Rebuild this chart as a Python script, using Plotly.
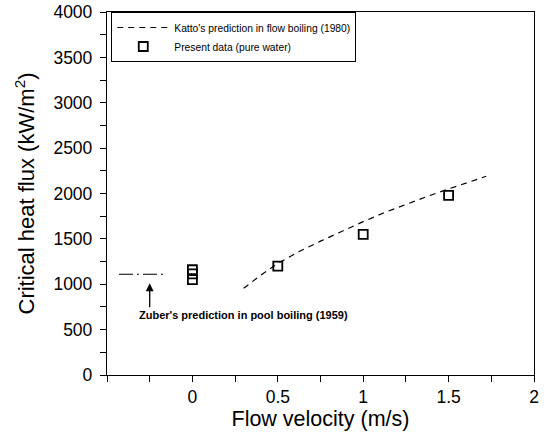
import plotly.graph_objects as go

# Katto's prediction in flow boiling (1980)
katto_v = [0.30, 0.40, 0.50, 0.625, 0.75, 0.875, 1.00, 1.125, 1.25, 1.375, 1.50, 1.625, 1.72]
katto_q = [955, 1100, 1230, 1360, 1475, 1585, 1690, 1790, 1880, 1968, 2050, 2130, 2190]

# Present data (pure water)
data_v = [0.0, 0.0, 0.0, 0.5, 1.0, 1.5]
data_q = [1160, 1115, 1050, 1200, 1550, 1980]

# Zuber's prediction in pool boiling (1959)
zuber_v = [-0.43, -0.15]
zuber_q = [1110, 1110]
zuber_label = "Zuber's prediction in pool boiling (1959)"

x_tickvals = [-0.5, -0.25, 0, 0.25, 0.5, 0.75, 1, 1.25, 1.5, 1.75, 2]
x_ticktext = ["", "", "0", "", "0.5", "", "1", "", "1.5", "", "2"]
y_tickvals = [0, 250, 500, 750, 1000, 1250, 1500, 1750, 2000, 2250, 2500, 2750, 3000, 3250, 3500, 3750, 4000]
y_ticktext = [str(v) if v % 500 == 0 else "" for v in y_tickvals]

FONT = "Liberation Sans, Arial, sans-serif"

fig = go.Figure()
fig.add_trace(go.Scatter(x=katto_v, y=katto_q, mode="lines",
                         line=dict(color="black", width=1.2, dash="6px,5px"),
                         name="Katto's prediction in flow boiling (1980)"))
fig.add_trace(go.Scatter(x=data_v, y=data_q, mode="markers",
                         marker=dict(symbol="square-open", size=9, color="black",
                                     line=dict(width=1.8, color="black")),
                         name="Present data (pure water)"))
fig.add_trace(go.Scatter(x=zuber_v, y=zuber_q, mode="lines",
                         line=dict(color="black", width=1.2, dash="14px,4px,2px,4px"),
                         showlegend=False))

fig.add_annotation(x=-0.25, y=1010, ax=-0.25, ay=730, xref="x", yref="y",
                   axref="x", ayref="y", showarrow=True, arrowhead=2,
                   arrowsize=1.2, arrowwidth=1.3, arrowcolor="black", text="")
fig.add_annotation(x=0.3, y=660, xref="x", yref="y", text="<b>" + zuber_label + "</b>",
                   showarrow=False, font=dict(size=11, color="black", family=FONT))

axis_common = dict(showline=True, linecolor="black", linewidth=1.3, mirror=True,
                   ticks="outside", ticklen=6, tickwidth=1, tickcolor="black",
                   showgrid=False, zeroline=False, automargin=False,
                   tickfont=dict(size=17.5, color="black", family=FONT))

fig.update_xaxes(range=[-0.5, 2], tickmode="array", tickvals=x_tickvals, ticktext=x_ticktext,
                 title=dict(text="Flow velocity (m/s)", font=dict(size=21.5, color="black", family=FONT), standoff=0),
                 **axis_common)
fig.update_yaxes(range=[0, 4000], tickmode="array", tickvals=y_tickvals, ticktext=y_ticktext,
                 ticklabelstandoff=4,
                 title=dict(text="Critical heat flux (kW/m<sup>2</sup>)", font=dict(size=22, color="black", family=FONT), standoff=12),
                 **axis_common)

fig.update_layout(
    width=546, height=434,
    margin=dict(l=107, r=12, t=12, b=59),
    paper_bgcolor="white", plot_bgcolor="white",
    font=dict(family=FONT, color="black"),
    legend=dict(x=0.01, y=1.0, xanchor="left", yanchor="top",
                bgcolor="white", bordercolor="black", borderwidth=1,
                font=dict(size=10.3, color="black", family=FONT), tracegroupgap=0,
                itemwidth=52),
)

fig.write_html("out.html")
